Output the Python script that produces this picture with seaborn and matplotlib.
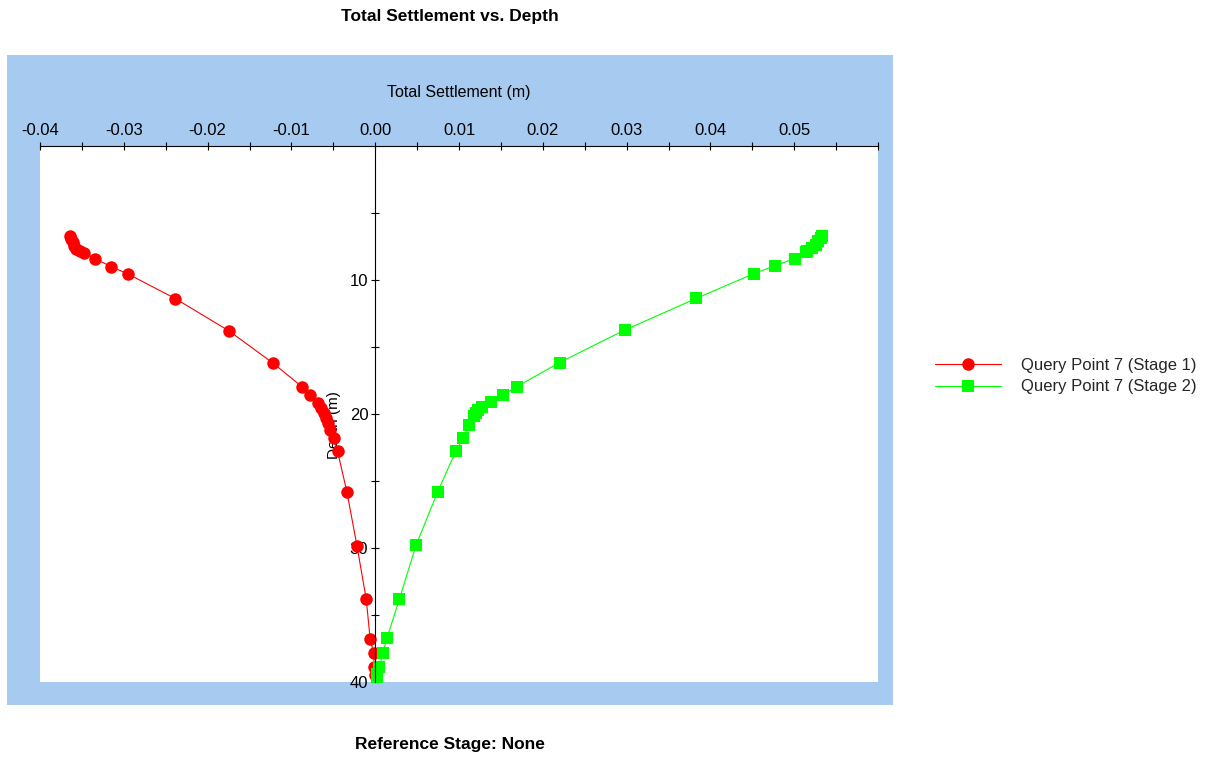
import matplotlib
matplotlib.use("Agg")
import matplotlib.pyplot as plt
import matplotlib.patches as mpatches
import seaborn as sns

# ---- data ----
stage1_settlement = [-0.03639, -0.03625, -0.03611, -0.03600, -0.03571, -0.03520, -0.03473,
                     -0.03345, -0.03151, -0.02944, -0.02385, -0.01742, -0.01214, -0.00869,
                     -0.00780, -0.00687, -0.00646, -0.00615, -0.00587, -0.00563, -0.00536,
                     -0.00496, -0.00449, -0.00337, -0.00218, -0.00107, -0.00060, -0.00020,
                     -0.00010, 0.00000]
stage1_depth = [6.75, 6.96, 7.20, 7.44, 7.65, 7.85, 7.95, 8.40, 9.00, 9.57, 11.39, 13.81,
                16.23, 17.99, 18.59, 19.17, 19.54, 19.92, 20.29, 20.67, 21.17, 21.79, 22.79,
                25.83, 29.82, 33.83, 36.80, 37.82, 38.87, 39.50]

stage2_settlement = [0.05337, 0.05321, 0.05289, 0.05258, 0.05214, 0.05155, 0.05139, 0.05004,
                     0.04765, 0.04520, 0.03833, 0.02976, 0.02200, 0.01687, 0.01527, 0.01377,
                     0.01270, 0.01230, 0.01202, 0.01179, 0.01123, 0.01051, 0.00961, 0.00744,
                     0.00488, 0.00289, 0.00139, 0.00092, 0.00051, 0.00027, 0.00020]
stage2_depth = [6.71, 6.84, 7.08, 7.38, 7.59, 7.82, 7.89, 8.40, 8.95, 9.52, 11.37, 13.74,
                16.16, 17.97, 18.55, 19.12, 19.47, 19.67, 19.92, 20.17, 20.79, 21.79, 22.79,
                25.83, 29.79, 33.81, 36.75, 37.82, 38.87, 39.37, 39.70]

series_labels = ["Query Point 7 (Stage 1)", "Query Point 7 (Stage 2)"]
x_ticks = [-0.04, -0.03, -0.02, -0.01, 0.00, 0.01, 0.02, 0.03, 0.04, 0.05]
x_tick_labels = ["-0.04", "-0.03", "-0.02", "-0.01", "0.00", "0.01", "0.02", "0.03", "0.04", "0.05"]
x_minor_ticks = [-0.035, -0.025, -0.015, -0.005, 0.005, 0.015, 0.025, 0.035, 0.045, 0.055, 0.06]
y_ticks = [10, 20, 30, 40]
y_minor_ticks = [5, 15, 25, 35]

# ---- style ----
sns.set_theme(style="white")
plt.rcParams["font.family"] = ["Liberation Sans", "DejaVu Sans"]

W, H = 1206, 760
fig = plt.figure(figsize=(W / 100, H / 100), dpi=100)
fig.patch.set_facecolor("white")

# blue frame behind the plot
frame = mpatches.Rectangle((7 / W, 1 - 705 / H), 886 / W, 650 / H,
                           transform=fig.transFigure, facecolor="#A6CAF0",
                           edgecolor="none", zorder=-1)
fig.patches.append(frame)

ax = fig.add_axes([40 / W, 1 - 682 / H, 838 / W, (682 - 146) / H])
ax.set_facecolor("white")

sns.lineplot(x=stage1_settlement, y=stage1_depth, sort=False, estimator=None, ax=ax,
             color="#FF0000", marker="o", markersize=9, markeredgewidth=0,
             linewidth=0.8, label=series_labels[0])
sns.lineplot(x=stage2_settlement, y=stage2_depth, sort=False, estimator=None, ax=ax,
             color="#00FF00", marker="s", markersize=8.3, markeredgewidth=0,
             linewidth=0.8, label=series_labels[1])

ax.set_xlim(-0.04, 0.06)
ax.set_ylim(40, 0)

# spines
for s in ["bottom", "right"]:
    ax.spines[s].set_visible(False)
ax.spines["top"].set_color("black")
ax.spines["top"].set_linewidth(0.8)
ax.spines["left"].set_position(("data", 0))
ax.spines["left"].set_color("black")
ax.spines["left"].set_linewidth(0.8)

# x axis on top
ax.xaxis.set_ticks_position("top")
ax.xaxis.set_label_position("top")
ax.set_xticks(x_ticks)
ax.set_xticklabels(x_tick_labels)
ax.set_xticks(x_minor_ticks, minor=True)
ax.tick_params(axis="x", which="both", direction="inout", length=6, width=0.8,
               color="black", top=True, bottom=False, labeltop=True, labelbottom=False,
               pad=2.5, labelsize=12, labelcolor="black")

ax.set_yticks(y_ticks)
ax.set_yticklabels([str(v) for v in y_ticks])
ax.set_yticks(y_minor_ticks, minor=True)
ax.tick_params(axis="y", which="both", direction="inout", length=6, width=0.8,
               color="black", left=True, right=False, pad=2, labelsize=12,
               labelcolor="black")

ax.set_xlabel("Total Settlement (m)", fontsize=11.5, color="black")
ax.xaxis.set_label_coords(0.5, (682 - 97) / 536)
ax.set_ylabel("Depth (m)", fontsize=11, color="black")
ax.yaxis.set_label_coords((341 - 40) / 838, 0.48)

ax.grid(False)

handles, labels = ax.get_legend_handles_labels()
ax.get_legend().remove()
fig.legend(handles, labels, loc="center left", bbox_to_anchor=(935 / W, 1 - 376 / H),
           frameon=False, fontsize=12, handlelength=3.95, handletextpad=1.2,
           borderpad=0, borderaxespad=0, labelspacing=0.4, numpoints=1)

fig.text(450 / W, 1 - 16 / H, "Total Settlement vs. Depth", ha="center", va="center",
         fontsize=12.5, fontweight="bold", color="black")
fig.text(450 / W, 1 - 745 / H, "Reference Stage: None", ha="center", va="center",
         fontsize=12.5, fontweight="bold", color="black")

fig.savefig("out.png", dpi=100)
